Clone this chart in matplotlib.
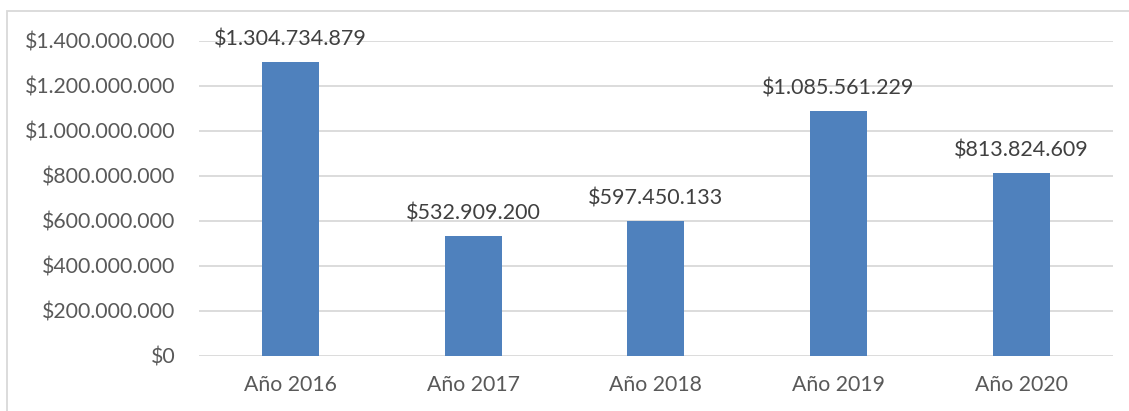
import matplotlib.pyplot as plt
from matplotlib.patches import Rectangle
from matplotlib.ticker import FuncFormatter

# Data
years = ['Año 2016', 'Año 2017', 'Año 2018', 'Año 2019', 'Año 2020']
values = [1304734879, 532909200, 597450133, 1085561229, 813824609]
y_ticks = [0, 200000000, 400000000, 600000000, 800000000,
           1000000000, 1200000000, 1400000000]

plt.rcParams['font.family'] = ['Lato', 'DejaVu Sans']

text_color = '#595959'
bar_color = '#4F81BD'
grid_color = '#D9D9D9'


def money(v, pos=None):
    # Spanish style thousands separator
    return '$' + f'{int(v):,}'.replace(',', '.')


fig = plt.figure(figsize=(11.29, 4.11), dpi=100)
ax = fig.add_axes([199 / 1129, (411 - 355.7) / 411,
                   (1112.5 - 199) / 1129, (355.7 - 40.7) / 411])

x = range(len(years))
ax.bar(x, values, width=0.312, color=bar_color, zorder=3)

for xi, v in zip(x, values):
    ax.annotate(money(v), xy=(xi, v), xytext=(0, 9), textcoords='offset points',
                ha='center', va='bottom', fontsize=15.5, color='#404040')

ax.set_xlim(-0.5, len(years) - 0.5)
ax.set_ylim(0, 1400000000)
ax.set_yticks(y_ticks)
ax.yaxis.set_major_formatter(FuncFormatter(money))
ax.set_xticks(list(x))
ax.set_xticklabels(years)

ax.grid(axis='y', color=grid_color, linewidth=1.3, zorder=0)
ax.tick_params(axis='both', length=0, labelsize=15.3, labelcolor=text_color)
ax.tick_params(axis='y', pad=17)
ax.tick_params(axis='x', pad=14)
for s in ax.spines.values():
    s.set_visible(False)

# outer chart border (only left and top visible in the reference)
fig.patches.append(Rectangle((7 / 1129, -0.1), 1.2, (411 - 11) / 411 + 0.1,
                             transform=fig.transFigure, fill=False,
                             edgecolor='#D9D9D9', linewidth=1.3))

fig.savefig('out.png', dpi=100)
